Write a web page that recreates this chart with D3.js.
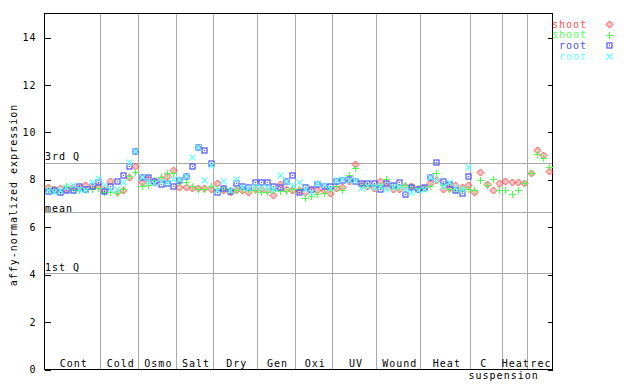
<!DOCTYPE html>
<html><head><meta charset="utf-8">
<script src="https://cdn.jsdelivr.net/npm/d3@7"></script>
<style>
body{margin:0;background:#fff}
text{font-family:"DejaVu Sans Mono",monospace;font-size:10px;letter-spacing:1px;fill:#000}
</style>
</head><body><svg id="c" width="640" height="384"></svg>
<script>
// ---- data ----
const groupNames = ["Cont","Cold","Osmo","Salt","Dry","Gen","Oxi","UV","Wound","Heat","C","Heat","rec"];
const groupSizes = [9,6,6,6,7,6,6,7,7,8,5,4,4];
const subLabel = {group:10, text:"suspension"};
const seriesNames = ["shoot","shoot","root","root"];
const seriesColors = ["#ff5050","#50ff50","#5050ff","#60ffff"];
const seriesShapes = ["diamond","plus","square","cross"];
const yTicks = [0,2,4,6,8,10,12,14];
const statValues = [8.68,6.6,4.06];
const statLabels = ["3rd Q","mean","1st Q"];
const yTitle = "affy-normalized expression";

const shootRep1 = [
 7.69,7.62,7.65,7.6,7.68,7.67,7.79,7.72,7.75,
 7.55,7.97,7.5,7.55,8.1,8.6,
 7.9,8.05,7.9,8.05,8.18,8.4,
 7.7,7.7,7.67,7.67,7.67,7.6,
 7.85,7.55,7.48,7.55,7.55,7.5,7.6,
 7.6,7.55,7.36,7.82,7.6,7.55,
 7.55,7.48,7.55,7.55,7.55,7.45,
 7.65,7.7,7.95,8.65,7.8,7.72,7.65,
 7.97,7.75,7.6,7.6,7.72,7.75,7.62,
 7.65,7.85,8.0,7.6,7.65,7.8,7.7,7.8,
 7.5,8.32,7.83,7.55,7.86,
 7.94,7.9,7.9,7.86,
 8.3,9.24,9.05,8.39];
const shootRep2 = [
 7.6,7.55,7.5,7.72,7.55,7.55,7.6,7.62,7.65,
 7.5,7.48,7.45,7.6,8.15,8.32,
 7.75,7.8,8.0,8.1,8.3,8.3,
 7.9,7.9,7.72,7.62,7.62,7.74,
 7.6,7.65,7.55,7.55,7.6,7.55,7.55,
 7.48,7.48,7.55,7.51,7.51,7.6,
 7.62,7.25,7.3,7.38,7.45,7.6,
 7.72,7.55,8.2,8.5,7.8,7.8,7.75,
 7.8,8.05,7.75,7.7,7.77,7.7,7.65,
 7.65,7.75,8.3,7.8,7.6,7.55,7.6,7.6,
 7.58,8.0,7.76,8.04,7.59,
 7.59,7.41,7.55,7.86,
 8.3,9.1,8.91,8.53];
const rootRep1 = [
 7.51,7.59,7.48,7.55,7.57,7.74,7.6,7.74,7.89,
 7.51,7.72,7.97,8.2,8.57,9.2,
 8.1,8.1,7.97,7.83,7.85,7.75,
 8.0,8.15,8.6,9.4,9.27,8.7,
 7.48,7.66,7.51,7.87,7.72,7.7,7.89,
 7.92,7.92,7.72,7.7,7.97,8.2,
 7.48,7.7,7.6,7.82,7.75,7.72,
 7.97,8.0,8.05,7.97,7.85,7.87,7.85,
 7.62,7.85,7.77,7.9,7.38,7.7,7.6,
 7.7,8.1,8.75,7.97,7.82,7.55,7.45,8.15,
 null,null,null,null,null,
 null,null,null,null,
 null,null,null,null];
const rootRep2 = [
 7.55,7.48,7.58,7.7,7.8,7.6,7.55,7.92,8.09,
 7.8,7.6,7.6,7.9,8.74,9.22,
 8.1,7.95,7.85,7.95,7.9,8.05,
 8.05,8.15,8.95,9.4,8.0,8.62,
 7.55,7.97,7.55,8.05,7.7,7.65,7.75,
 7.7,7.7,7.6,8.2,7.97,7.8,
 7.9,7.6,7.5,7.85,7.8,7.65,
 8.0,8.05,8.0,8.0,7.65,7.75,7.7,
 7.75,7.6,7.7,7.75,7.6,7.5,7.55,
 7.6,8.1,8.0,7.75,7.9,7.7,7.6,8.55,
 null,null,null,null,null,
 null,null,null,null,
 null,null,null,null];
const seriesValues = [shootRep1, shootRep2, rootRep1, rootRep2];

// ---- chart ----
const svg = d3.select("#c");
const nSlots = d3.sum(groupSizes);
const x = d3.scaleLinear().domain([0,nSlots]).range([44.5,552.5]);
const y = d3.scaleLinear().domain([0,15]).range([369.5,13.8]);
const px = v => Math.round(v)+0.5;

// group dividers
const bounds = d3.cumsum(groupSizes);
const starts = [0, ...bounds.slice(0,-1)];
svg.append("g").selectAll("line").data(bounds.slice(0,-1)).join("line")
  .attr("x1",d=>px(x(d)-0.5)).attr("x2",d=>px(x(d)-0.5))
  .attr("y1",13.5).attr("y2",369.5)
  .attr("stroke","#aaa").attr("stroke-width",1).attr("shape-rendering","crispEdges");

// stat lines
svg.append("g").selectAll("line").data(statValues).join("line")
  .attr("x1",44.5).attr("x2",552.5)
  .attr("y1",d=>px(y(d)-0.5)).attr("y2",d=>px(y(d)-0.5))
  .attr("stroke","#aaa").attr("stroke-width",1).attr("shape-rendering","crispEdges");
const statDy = [-4,-1,-2];
svg.append("g").selectAll("text").data(statValues).join("text")
  .attr("x",45).attr("y",(d,i)=>Math.round(y(d))+statDy[i])
  .text((d,i)=>statLabels[i]);

// axes
const gl = svg.append("g").attr("transform","translate(44.5,0)")
  .call(d3.axisLeft(y).tickValues(yTicks).tickSizeInner(-6).tickSizeOuter(0).tickPadding(8));
gl.select(".domain").remove();
gl.selectAll("line").attr("shape-rendering","crispEdges");
const gr = svg.append("g").attr("transform","translate(552.5,0)")
  .call(d3.axisRight(y).tickValues(yTicks).tickSizeInner(-5).tickSizeOuter(0).tickFormat(""));
gr.select(".domain").remove();
gr.selectAll("line").attr("shape-rendering","crispEdges");

svg.append("rect").attr("x",44.5).attr("y",13.5).attr("width",508).attr("height",356)
  .attr("fill","none").attr("stroke","#000").attr("shape-rendering","crispEdges");

// group labels
svg.append("g").selectAll("text").data(groupNames).join("text")
  .attr("x",(d,i)=>x((starts[i]+bounds[i])/2)+(i===10?-3:1))
  .attr("y",367).attr("text-anchor","middle").text(d=>d);
svg.append("text").attr("x",x((starts[subLabel.group]+bounds[subLabel.group])/2)+17)
  .attr("y",379).attr("text-anchor","middle").text(subLabel.text);

// y title
svg.append("text").attr("transform","translate(16.5,195) rotate(-90)")
  .attr("text-anchor","middle").text(yTitle);

// markers
function marker(g, shape, color){
  if(shape==="diamond"){
    g.append("path").attr("d","M0,-3.5L3.5,0L0,3.5L-3.5,0Z")
      .attr("fill",color).attr("fill-opacity",0.35).attr("stroke",color).attr("stroke-width",1);
  } else if(shape==="plus"){
    g.append("path").attr("d","M-3.5,0H3.5M0,-3.5V3.5").attr("stroke",color).attr("stroke-width",1.2);
  } else if(shape==="square"){
    g.append("rect").attr("x",-2.5).attr("y",-2.5).attr("width",5).attr("height",5)
      .attr("fill","none").attr("stroke",color).attr("stroke-width",1.2);
    g.append("rect").attr("x",-0.6).attr("y",-0.6).attr("width",1.2).attr("height",1.2).attr("fill",color);
  } else {
    g.append("path").attr("d","M-3,-3L3,3M-3,3L3,-3").attr("stroke",color).attr("stroke-width",1.1);
  }
}
seriesValues.forEach((vals,si)=>{
  const g = svg.append("g");
  vals.forEach((v,i)=>{
    if(v==null) return;
    const m = g.append("g").attr("transform",`translate(${Math.round(x(i+0.5))+0.5},${Math.round(y(v))+0.5})`);
    marker(m, seriesShapes[si], seriesColors[si]);
  });
});

// legend
const legY = [24,34.7,45.3,56];
seriesNames.forEach((n,i)=>{
  svg.append("text").attr("x",587).attr("y",legY[i]+3.5).attr("text-anchor","end")
    .style("fill",seriesColors[i]).text(n);
  const m = svg.append("g").attr("transform",`translate(609.5,${Math.round(legY[i])+0.5})`);
  marker(m, seriesShapes[i], seriesColors[i]);
});
</script>
</body></html>
